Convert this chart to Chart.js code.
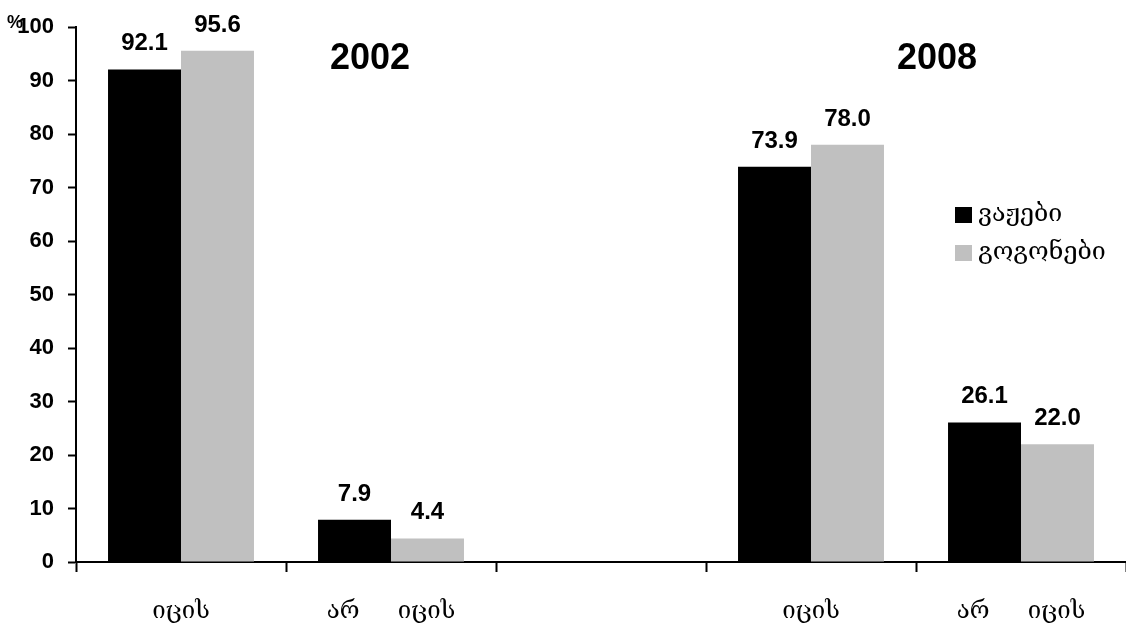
<!DOCTYPE html>
<html>
<head>
<meta charset="utf-8">
<script src="https://cdn.jsdelivr.net/npm/chart.js@4.4.0/dist/chart.umd.min.js"></script>
<style>
  html, body { margin: 0; padding: 0; background: #fff; overflow: hidden; }
  #wrap { width: 1126px; height: 628px; }
</style>
</head>
<body>
<div id="wrap"><canvas id="c" width="1126" height="628"></canvas></div>
<script>
const categories = ['იცის', 'არ     იცის', '', 'იცის', 'არ     იცის'];
const boys = [92.1, 7.9, null, 73.9, 26.1];
const girls = [95.6, 4.4, null, 78.0, 22.0];
const seriesNames = ['ვაჟები', 'გოგონები'];
const years = ['2002', '2008'];
const yearPos = [0.9, 3.6];   // in category units
const yTicks = [0, 10, 20, 30, 40, 50, 60, 70, 80, 90, 100];

const GEO = '"DejaVu Serif", serif';
const ARIAL = '"Liberation Sans", Arial, sans-serif';

Chart.defaults.font.family = ARIAL;
Chart.defaults.color = '#000';

const extras = {
  id: 'extras',
  afterDatasetsDraw(chart) {
    const ctx = chart.ctx;
    const x = chart.scales.x, y = chart.scales.y;
    ctx.save();
    // value labels over bars
    ctx.fillStyle = '#000';
    ctx.font = 'bold 24px ' + ARIAL;
    ctx.textAlign = 'center';
    ctx.textBaseline = 'alphabetic';
    chart.data.datasets.forEach((ds, di) => {
      chart.getDatasetMeta(di).data.forEach((bar, i) => {
        if (ds.data[i] == null) return;
        ctx.fillText(ds.data[i].toFixed(1), bar.x, bar.y - 19);
      });
    });
    // year titles
    ctx.font = 'bold 36px ' + ARIAL;
    ctx.textBaseline = 'middle';
    years.forEach((t, i) => {
      ctx.fillText(t, x.getPixelForValue(yearPos[i]), y.getPixelForValue(94));
    });
    // percent sign
    ctx.font = 'bold 18px ' + ARIAL;
    ctx.textAlign = 'left';
    ctx.textBaseline = 'alphabetic';
    ctx.fillText('%', 7, 28);
    // legend
    const lx = 955, ly = [207, 245];
    ctx.font = '25px ' + GEO;
    ctx.textBaseline = 'middle';
    chart.data.datasets.forEach((ds, di) => {
      ctx.fillStyle = ds.backgroundColor;
      ctx.fillRect(lx, ly[di], 17, 16);
      ctx.fillStyle = '#000';
      ctx.fillText(ds.label, lx + 23, ly[di] + 7);
    });
    ctx.restore();
  }
};

new Chart(document.getElementById('c'), {
  type: 'bar',
  data: {
    labels: categories,
    datasets: [
      { label: seriesNames[0], data: boys, backgroundColor: '#000000' },
      { label: seriesNames[1], data: girls, backgroundColor: '#C0C0C0' }
    ]
  },
  options: {
    responsive: false,
    animation: false,
    devicePixelRatio: 1,
    datasets: { bar: { categoryPercentage: 0.695, barPercentage: 1.0 } },
    layout: { padding: { top: 25, right: 0, bottom: 0, left: 0 } },
    plugins: { legend: { display: false }, tooltip: { enabled: false } },
    scales: {
      x: {
        offset: true,
        grid: { offset: true, drawOnChartArea: false, drawTicks: true, tickLength: 10, tickWidth: 2, tickColor: '#000' },
        border: { color: '#000', width: 2 },
        ticks: { color: '#000', font: { family: GEO, size: 24 }, padding: 25, maxRotation: 0, autoSkip: false },
        afterFit(s) { s.height = 66; }
      },
      y: {
        min: 0, max: 100,
        afterBuildTicks(s) { s.ticks = yTicks.map(v => ({ value: v })); },
        grid: { drawOnChartArea: false, drawTicks: true, tickLength: 8, tickWidth: 2, tickColor: '#000' },
        border: { color: '#000', width: 2 },
        ticks: { color: '#000', font: { family: ARIAL, size: 22, weight: 'bold' }, padding: 14 },
        afterFit(s) { s.width = 76; }
      }
    }
  },
  plugins: [extras]
});
</script>
</body>
</html>
